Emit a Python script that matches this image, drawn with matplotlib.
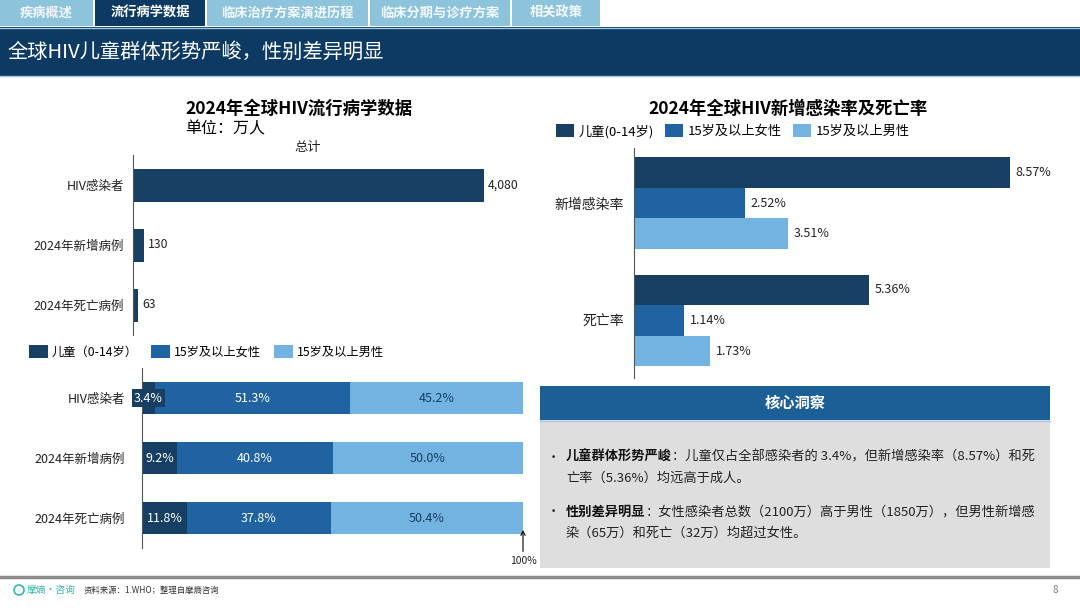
import numpy as np
import matplotlib
matplotlib.use('Agg')
import matplotlib.pyplot as plt
from matplotlib.patches import Rectangle, Circle

plt.rcParams['font.family'] = ['Noto Sans CJK SC', 'DejaVu Sans']

# data
cats_total = ['HIV感染者', '2024年新增病例', '2024年死亡病例']
totals = [4080, 130, 63]

share_children = [3.4, 9.2, 11.8]
share_female = [51.3, 40.8, 37.8]
share_male = [45.2, 50.0, 50.4]

rate_cats = ['新增感染率', '死亡率']
rate_children = [8.57, 5.36]
rate_female = [2.52, 1.14]
rate_male = [3.51, 1.73]

tabs = ['疾病概述', '流行病学数据', '临床治疗方案演进历程', '临床分期与诊疗方案', '相关政策']

# colours
c_dark = '#173f63'
c_mid = '#1f63a0'
c_light = '#72b3e2'
navy = '#0c3a62'

W, H = 1080, 608
fig = plt.figure(figsize=(10.8, 6.08), dpi=100)


def box(x0, y0, x1, y1):
    return [x0 / W, 1 - y1 / H, (x1 - x0) / W, (y1 - y0) / H]


bg = fig.add_axes([0, 0, 1, 1])
bg.set_xlim(0, W)
bg.set_ylim(H, 0)
bg.axis('off')

# nav tabs
tab_edges = [(0, 93), (95, 205), (207, 368), (370, 510), (512, 600)]
for i, (name, (x0, x1)) in enumerate(zip(tabs, tab_edges)):
    col = navy if i == 1 else '#8ec3dc'
    bg.add_patch(Rectangle((x0, 0), x1 - x0, 26, color=col, lw=0))
    bg.text((x0 + x1) / 2, 13, name, color='white' if i == 1 else '#f2f8fb', fontsize=9.5,
            fontweight='bold', ha='center', va='center')

# title band
bg.add_patch(Rectangle((0, 27), W, 49, color=navy, lw=0))
bg.plot([0, W], [27.5, 27.5], color='#9cc7e6', lw=1)
bg.plot([0, W], [76, 76], color='#9cc7e6', lw=1)
bg.text(8, 52, '全球HIV儿童群体形势严峻，性别差异明显', color='white',
        fontsize=14.6, va='center')

# left top chart: totals
bg.text(185, 109, '2024年全球HIV流行病学数据', fontsize=12.5, fontweight='bold', va='center')
bg.text(185, 129, '单位：万人', fontsize=11.5, va='center')
bg.text(308, 148, '总计', fontsize=9.5, ha='center', va='center', color='#222222')

ax1 = fig.add_axes(box(133, 155, 484, 335))
y = np.arange(len(cats_total))
b = ax1.barh(y, totals, height=0.55, color=c_dark)
ax1.bar_label(b, labels=[f'{v:,}' for v in totals], padding=3, fontsize=8.8, color='#222222')
ax1.set_xlim(0, 4080)
ax1.set_ylim(2.5, -0.5)
ax1.set_yticks(y, cats_total, fontsize=9, color='#222222')
ax1.set_xticks([])
ax1.tick_params(axis='y', length=0, pad=6.5)
for s in ['top', 'right', 'bottom']:
    ax1.spines[s].set_visible(False)
ax1.spines['left'].set_color('#555555')
ax1.patch.set_alpha(0)

# left bottom chart: shares
ax2 = fig.add_axes(box(142, 368, 523, 548))
left = np.zeros(3)
segs = [(share_children, c_dark, '儿童（0-14岁）', 'white'),
        (share_female, c_mid, '15岁及以上女性', 'white'),
        (share_male, c_light, '15岁及以上男性', c_dark)]
handles = []
for vals, col, lab, tcol in segs:
    bb = ax2.barh(y, vals, left=left, height=0.53, color=col, label=lab)
    txts = ax2.bar_label(bb, labels=[f'{v:.1f}%' for v in vals], label_type='center',
                         fontsize=9, color=tcol)
    if vals is share_children:
        txts[0].set_bbox(dict(facecolor=c_dark, edgecolor='none', pad=1.5))
    left += np.array(vals)
    handles.append(bb)
ax2.set_xlim(0, 100)
ax2.set_ylim(2.5, -0.5)
ax2.set_yticks(y, cats_total, fontsize=9, color='#222222')
ax2.set_xticks([])
ax2.tick_params(axis='y', length=0, pad=12)
for s in ['top', 'right', 'bottom']:
    ax2.spines[s].set_visible(False)
ax2.spines['left'].set_color('#555555')
ax2.patch.set_alpha(0)
ax2.annotate('100%', xy=(100, 0.1), xytext=(100, -0.07),
             xycoords=('data', 'axes fraction'), textcoords=('data', 'axes fraction'),
             ha='center', va='center', fontsize=7.5, color='#222222',
             arrowprops=dict(arrowstyle='->', color='black', lw=0.8, shrinkA=1, shrinkB=0))
fig.legend(handles, [s[2] for s in segs], loc='center left',
           bbox_to_anchor=(29 / W, 1 - 352 / H), ncol=3, frameon=False,
           borderpad=0, borderaxespad=0, handlelength=1.55, handleheight=1.2,
           handletextpad=0.3, columnspacing=1.1, fontsize=8.8)

# right chart: rates
bg.text(648, 109, '2024年全球HIV新增感染率及死亡率', fontsize=12.5, fontweight='bold', va='center')
ax3 = fig.add_axes(box(634, 148, 1073, 378))
g = np.arange(len(rate_cats))
rh = 0.26
rseries = [(rate_children, c_dark, '儿童(0-14岁)', -rh),
           (rate_female, c_mid, '15岁及以上女性', 0),
           (rate_male, c_light, '15岁及以上男性', rh)]
rhandles = []
for vals, col, lab, off in rseries:
    bb = ax3.barh(g + off, vals, height=rh, color=col, label=lab)
    ax3.bar_label(bb, labels=[f'{v:.2f}%' for v in vals], padding=4, fontsize=9, color='#222222')
    rhandles.append(bb)
ax3.set_xlim(0, 10)
ax3.set_ylim(1.49, -0.47)
ax3.set_yticks(g, rate_cats, fontsize=10, color='#222222')
ax3.set_xticks([])
ax3.tick_params(axis='y', length=0, pad=7)
for s in ['top', 'right', 'bottom']:
    ax3.spines[s].set_visible(False)
ax3.spines['left'].set_color('#555555')
ax3.patch.set_alpha(0)
fig.legend(rhandles, [s[2] for s in rseries], loc='center left',
           bbox_to_anchor=(556 / W, 1 - 131 / H), ncol=3, frameon=False,
           borderpad=0, borderaxespad=0, handlelength=1.4, handleheight=1.2,
           handletextpad=0.35, columnspacing=0.8, fontsize=9.5)

# insight box
bg.add_patch(Rectangle((540, 386), 510, 34, color='#1c5f97', lw=0))
bg.add_patch(Rectangle((540, 420), 510, 148, color='#dedede', lw=0))
bg.plot([540, 1050], [420.5, 420.5], color='#a9cbe6', lw=1)
bg.text(795, 403, '核心洞察', color='white', fontsize=11, fontweight='bold',
        ha='center', va='center')

bullets = [
    ('儿童群体形势严峻', '：儿童仅占全部感染者的 3.4%，但新增感染率（8.57%）和死',
     '亡率（5.36%）均远高于成人。', 457),
    ('性别差异明显', '：女性感染者总数（2100万）高于男性（1850万），但男性新增感',
     '染（65万）和死亡（32万）均超过女性。', 512),
]
for head, rest, line2, yy in bullets:
    bg.text(553, yy, '•', fontsize=9.5, ha='center', va='center', color='#222222')
    t = bg.text(566, yy, head, fontsize=9.5, fontweight='bold', va='center', color='#111111')
    bg.annotate(rest, xy=(1, 0.5), xycoords=t, fontsize=9.5, va='center', ha='left',
                color='#222222')
    bg.text(566, yy + 21, line2, fontsize=9.5, va='center', color='#222222')

# footer
bg.plot([0, W], [577, 577], color='#8c8c8c', lw=2.5)
bg.add_patch(Circle((19, 590), 5, fill=False, ec='#3cb4a8', lw=1.2))
bg.text(27, 590, '摩熵·咨询', fontsize=7, color='#3cb4a8', va='center')
bg.text(84, 590, '资料来源：1.WHO；整理自摩熵咨询', fontsize=6, color='#333333', va='center')
bg.text(1055, 590, '8', fontsize=7, color='#777777', va='center', ha='center')

fig.savefig('out.png', dpi=100)
